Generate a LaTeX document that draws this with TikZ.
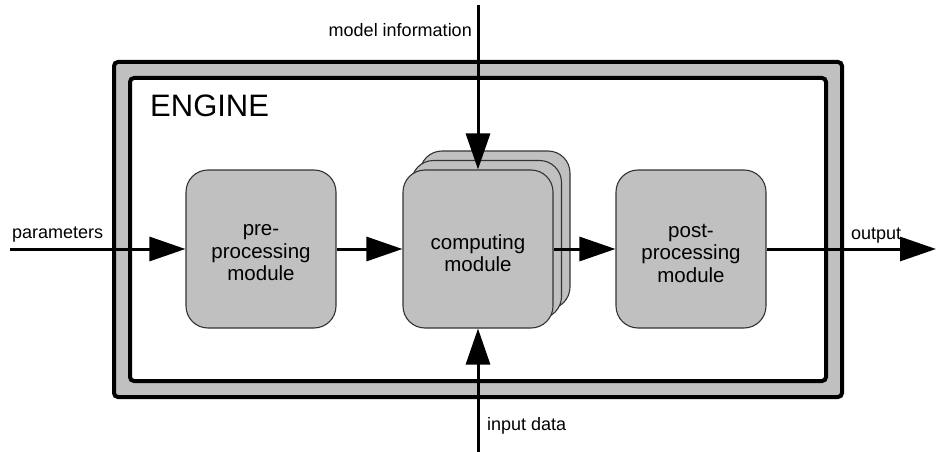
\documentclass[tikz,border=0pt]{standalone}
\usepackage{fontspec}
\setmainfont{Liberation Sans}
\usetikzlibrary{arrows.meta}
\definecolor{modgray}{HTML}{C0C0C0}
\definecolor{edgegray}{HTML}{333333}
\tikzset{
  module/.style={draw=edgegray, line width=1.1pt, fill=modgray, rounded corners=22pt,
    minimum width=150pt, minimum height=158pt, inner sep=0pt},
  modtext/.style={inner sep=0pt, align=center, yshift=-4pt,
    font=\fontsize{20.5}{22.5}\selectfont},
  flow/.style={line width=3pt, -{Triangle[length=36pt,width=24pt]}},
  lbl/.style={inner sep=0pt, font=\fontsize{18}{20}\selectfont},
  frame/.style={line width=4pt, rounded corners=4pt}
}
\begin{document}
\begin{tikzpicture}[x=1pt,y=-1pt]
\useasboundingbox (0,0) rectangle (937,452);
% engine frame: grey band between two black outlines
\draw[frame, fill=modgray] (114,62) rectangle (842,397);
\draw[frame, fill=white] (130,78) rectangle (826,381);
\node[anchor=base west, inner sep=0pt, font=\fontsize{31}{34}\selectfont] (title) at (150,116) {ENGINE};

% modules (the computing module is a stack of three cards)
\node[module, label={[modtext]center:{pre-\\processing\\module}}] (pre) at (261,249) {};
\node[module] (comp3) at (495,230) {};
\node[module] (comp2) at (486.5,239.5) {};
\node[module, label={[modtext]center:{computing\\module}}] (comp) at (478,249) {};
\node[module, label={[modtext]center:{post-\\processing\\module}}] (post) at (691,249) {};

% free ends of the external connectors
\coordinate (pin) at (10,249);
\coordinate (pout) at (936,249);
\coordinate (minfo) at (478,5);
\coordinate (din) at (478,452);

% connectors
\draw[flow] (pin) -- (pre.west);
\draw[flow] (pre.east) -- (comp.west);
\draw[flow] (comp.east) -- (post.west);
\draw[flow] (post.east) -- (pout);
\draw[flow] (minfo) -- (comp.north);
\draw[flow] (din) -- (comp.south);

% labels
\node[lbl, anchor=base west] (lpar) at (12,238) {parameters};
\node[lbl, anchor=base west] (lout) at (851,239) {output};
\node[lbl, anchor=base east] (lmod) at (472,37) {model information};
\node[lbl, anchor=base west] (lin) at (487,430) {input data};
\end{tikzpicture}
\end{document}
